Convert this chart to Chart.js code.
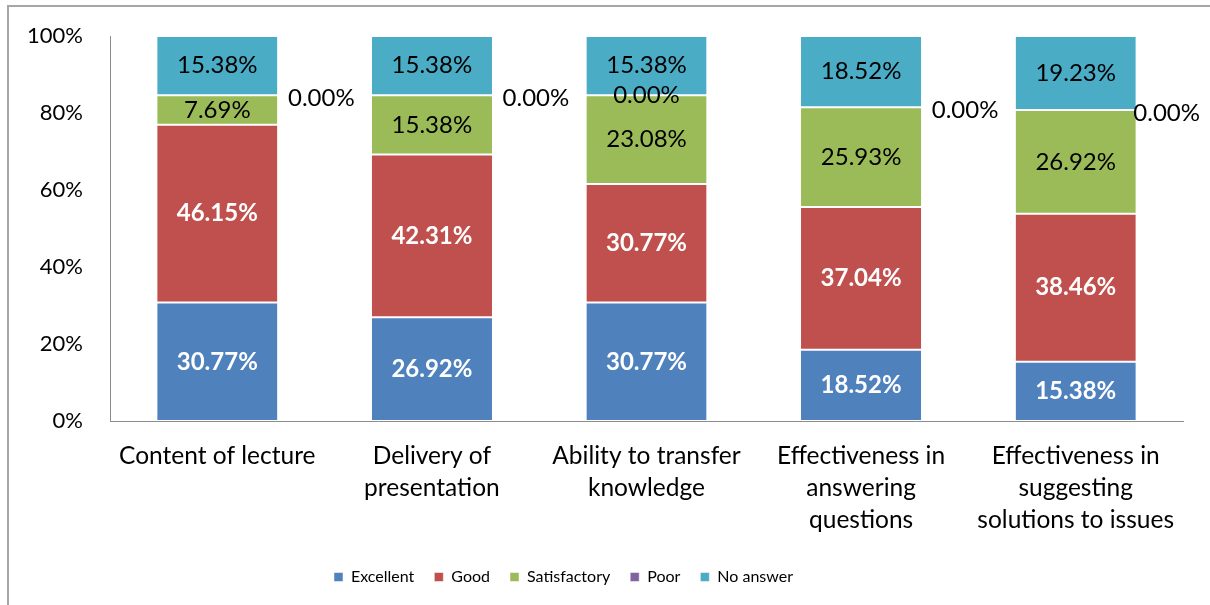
<!DOCTYPE html>
<html>
<head>
<meta charset="utf-8">
<title>Lecture evaluation</title>
<script src="https://cdn.jsdelivr.net/npm/chart.js@4.4.1/dist/chart.umd.min.js"></script>
<style>
    html, body {
        margin: 0;
        padding: 0;
        background: #fff;
        overflow: hidden;
    }
    .frame {
        position: absolute;
        left: 7px;
        top: 5px;
        width: 1400px;
        height: 800px;
        border-left: 2px solid #a6a6a6;
        border-top: 2px solid #a6a6a6;
    }
    .chart-box {
        position: absolute;
        left: 0;
        top: 0;
        width: 1210px;
        height: 605px;
    }
</style>
</head>
<body>
<div class="frame"></div>
<div class="chart-box"><canvas id="chart"></canvas></div>
<script>
// Categories and values (percent of respondents)
const categories = [
    'Content of lecture',
    ['Delivery of', 'presentation'],
    ['Ability to transfer', 'knowledge'],
    ['Effectiveness in', 'answering', 'questions'],
    ['Effectiveness in', 'suggesting', 'solutions to issues']
];
const excellent = [30.77, 26.92, 30.77, 18.52, 15.38];
const good = [46.15, 42.31, 30.77, 37.04, 38.46];
const satisfactory = [7.69, 15.38, 23.08, 25.93, 26.92];
const poor = [0, 0, 0, 0, 0];
const noAnswer = [15.38, 15.38, 15.38, 18.52, 19.23];
const yTicks = [0, 20, 40, 60, 80, 100];

// Excel put the third "Poor" label inside the bar, the rest beside it
const poorInside = [false, false, true, false, false];

const FONT = 'Lato, "Open Sans", sans-serif';

function series(label, data, color, labelColor, bold) {
    return {
        label: label,
        data: data,
        backgroundColor: color,
        borderColor: '#ffffff',
        borderWidth: { top: 1, bottom: 1, left: 0, right: 0 },
        borderSkipped: false,
        labelColor: labelColor,
        labelBold: bold
    };
}

// Draws the percentage text on each segment
const segmentLabels = {
    id: 'segmentLabels',
    afterDatasetsDraw(chart) {
        const ctx = chart.ctx;
        ctx.save();
        ctx.textAlign = 'center';
        ctx.textBaseline = 'middle';
        chart.data.datasets.forEach((ds, di) => {
            const meta = chart.getDatasetMeta(di);
            meta.data.forEach((bar, i) => {
                const text = ds.data[i].toFixed(2) + '%';
                ctx.fillStyle = ds.labelColor;
                ctx.font = (ds.labelBold ? 'bold ' : '') + '24px ' + FONT;
                let x = bar.x;
                let y = (bar.y + bar.base) / 2;
                if (ds.label === 'Poor' && !poorInside[i]) {
                    const half = ctx.measureText(text).width / 2;
                    x = Math.min(x + 104, chart.width - 10 - half);
                    y += 3;
                }
                ctx.fillText(text, x, y);
            });
        });
        ctx.restore();
    }
};

// Legend in the original sits a bit left of centre
const legendShift = {
    id: 'legendShift',
    afterLayout(chart) {
        chart.legend.left -= 28;
        chart.legend.right -= 28;
    }
};

const ctx = document.getElementById('chart');

new Chart(ctx, {
    type: 'bar',
    data: {
        labels: categories,
        datasets: [
            series('Excellent', excellent, '#4f81bd', '#ffffff', true),
            series('Good', good, '#c0504d', '#ffffff', true),
            series('Satisfactory', satisfactory, '#9bbb59', '#000000', false),
            series('Poor', poor, '#8064a2', '#000000', false),
            series('No answer', noAnswer, '#4bacc6', '#000000', false)
        ]
    },
    options: {
        responsive: true,
        maintainAspectRatio: false,
        animation: false,
        layout: {
            padding: { top: 36, right: 27, left: 0, bottom: 10 }
        },
        datasets: {
            bar: {
                barPercentage: 0.56,
                categoryPercentage: 1
            }
        },
        scales: {
            x: {
                stacked: true,
                grid: { display: false, drawTicks: false },
                border: { display: true, color: '#8c8c8c', width: 1 },
                ticks: {
                    color: '#000',
                    font: { family: FONT, size: 24.5, lineHeight: 1.31 },
                    padding: 19,
                    maxRotation: 0,
                    autoSkip: false
                },
                afterFit(scale) {
                    scale.height = 128;
                }
            },
            y: {
                stacked: true,
                min: 0,
                max: 100,
                grid: { display: false, drawTicks: false },
                border: { display: true, color: '#8c8c8c', width: 1 },
                afterBuildTicks(scale) {
                    scale.ticks = yTicks.map(v => ({ value: v }));
                },
                ticks: {
                    color: '#000',
                    font: { family: FONT, size: 22 },
                    padding: 27,
                    callback: v => v + '%'
                },
                afterFit(scale) {
                    scale.width = 110;
                    // tick padding should not push the plot down
                    scale.paddingTop = 0;
                    scale.paddingBottom = 0;
                }
            }
        },
        plugins: {
            legend: {
                position: 'bottom',
                labels: {
                    color: '#000',
                    font: { family: FONT, size: 16 },
                    boxWidth: 9,
                    boxHeight: 9,
                    padding: 20
                }
            },
            tooltip: { enabled: false }
        }
    },
    plugins: [segmentLabels, legendShift]
});
</script>
</body>
</html>
